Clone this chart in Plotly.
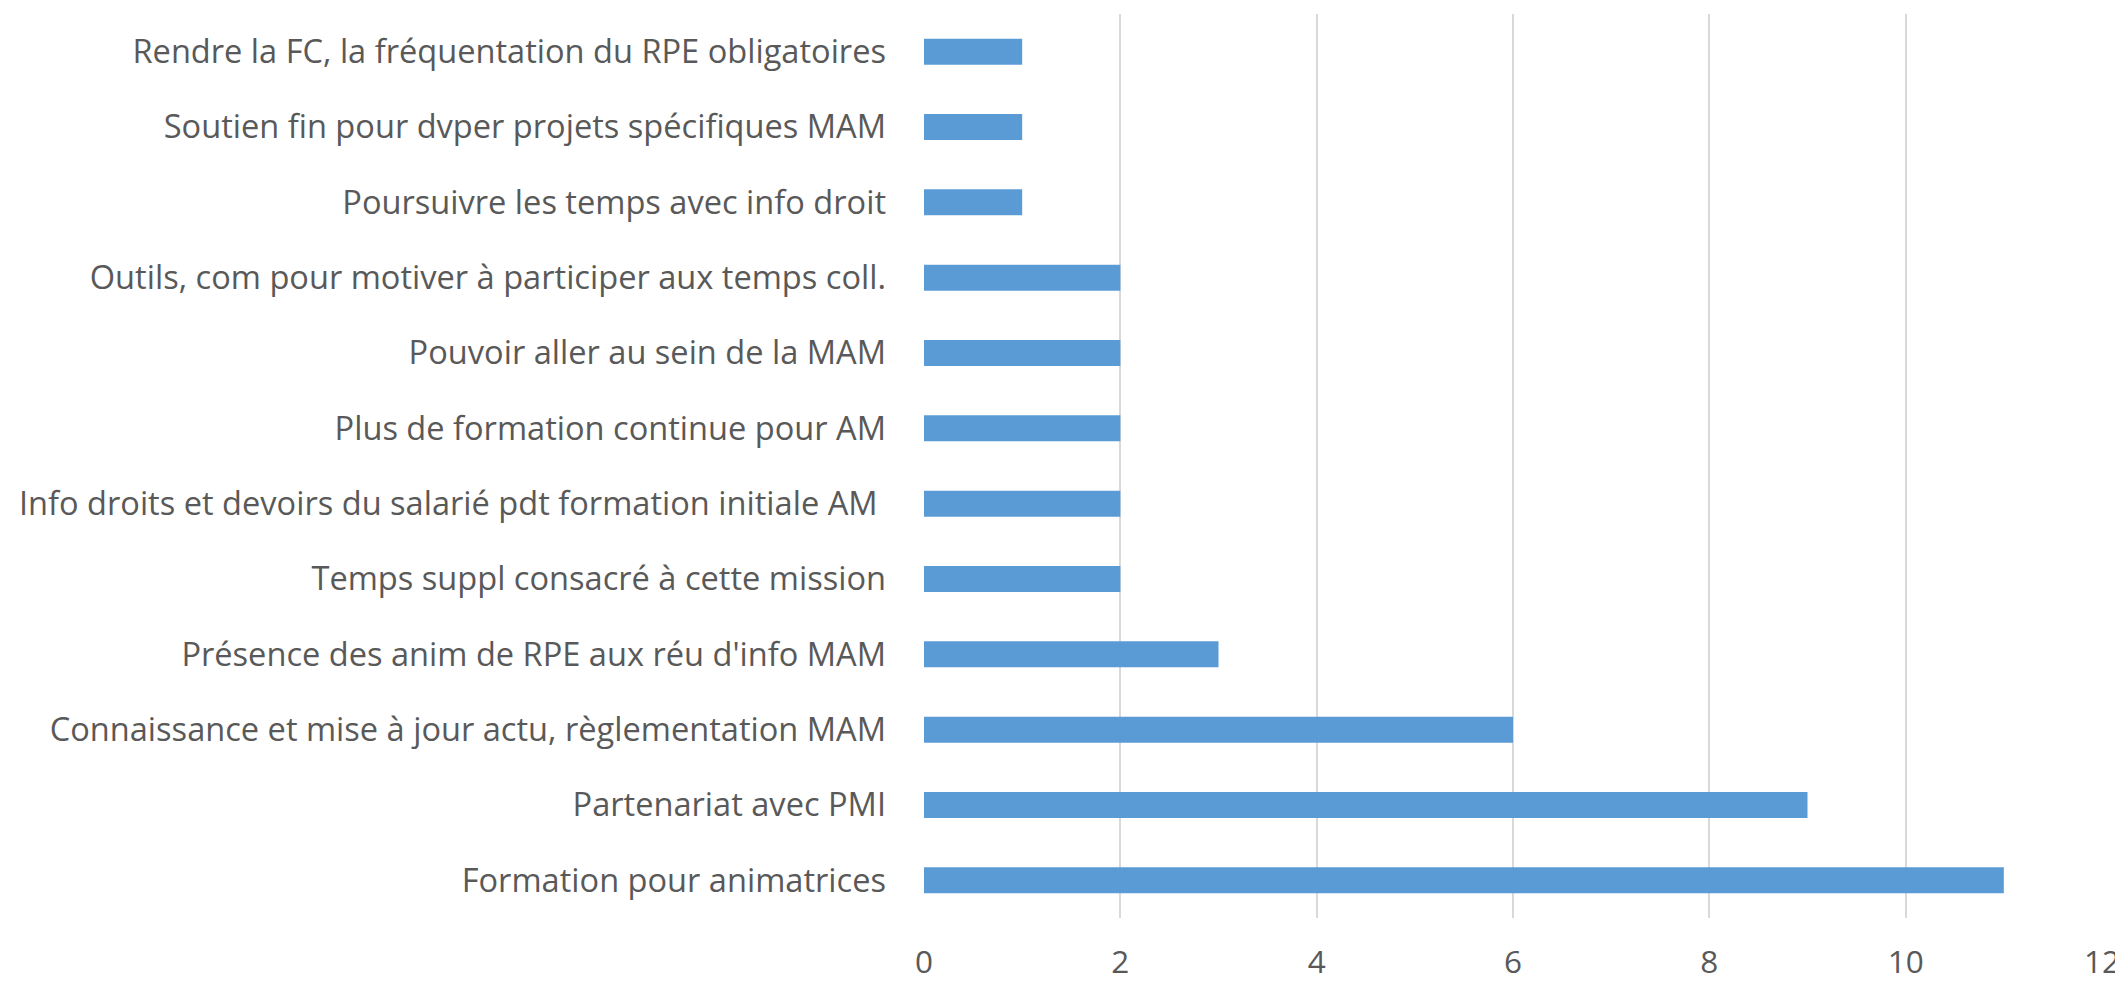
import plotly.graph_objects as go

# categories listed bottom to top, as plotted
categories = [
    "Formation pour animatrices",
    "Partenariat avec PMI",
    "Connaissance et mise à jour actu, règlementation MAM",
    "Présence des anim de RPE aux réu d'info MAM",
    "Temps suppl consacré à cette mission",
    "Info droits et devoirs du salarié pdt formation initiale AM\u00a0",
    "Plus de formation continue pour AM",
    "Pouvoir aller au sein de la MAM",
    "Outils, com pour motiver à participer aux temps coll.",
    "Poursuivre les temps avec info droit",
    "Soutien fin pour dvper projets spécifiques MAM",
    "Rendre la FC, la fréquentation du RPE obligatoires",
]
values = [11, 9, 6, 3, 2, 2, 2, 2, 2, 1, 1, 1]
x_ticks = [0, 2, 4, 6, 8, 10, 12]

fig = go.Figure()

fig.add_trace(go.Bar(
    x=values,
    y=categories,
    orientation='h',
    marker=dict(color='#5B9BD5', line_width=0),
    hovertemplate='%{y}: %{x}<extra></extra>'
))

# page body has an 8px margin, so the figure sits 8px right/down in the window
fig.update_layout(
    width=2115,
    height=981,
    margin=dict(l=916, r=21, t=6, b=71),
    paper_bgcolor='white',
    plot_bgcolor='white',
    bargap=0.655,
    showlegend=False,
    font=dict(family='Open Sans, sans-serif', color='#595959', size=30),
    xaxis=dict(
        range=[0, 12],
        tickvals=x_ticks,
        showgrid=True,
        gridcolor='#D9D9D9',
        gridwidth=2,
        zeroline=False,
        showline=False,
        ticks='',
        automargin=False,
        ticklabeloverflow='allow',
        ticklabelstandoff=22,
        tickfont=dict(size=31.5, color='#595959'),
    ),
    yaxis=dict(
        showgrid=False,
        zeroline=False,
        showline=False,
        ticks='',
        automargin=False,
        ticklabelstandoff=37,
        tickfont=dict(size=32.6, color='#595959'),
    ),
)

fig.write_html("out.html")
